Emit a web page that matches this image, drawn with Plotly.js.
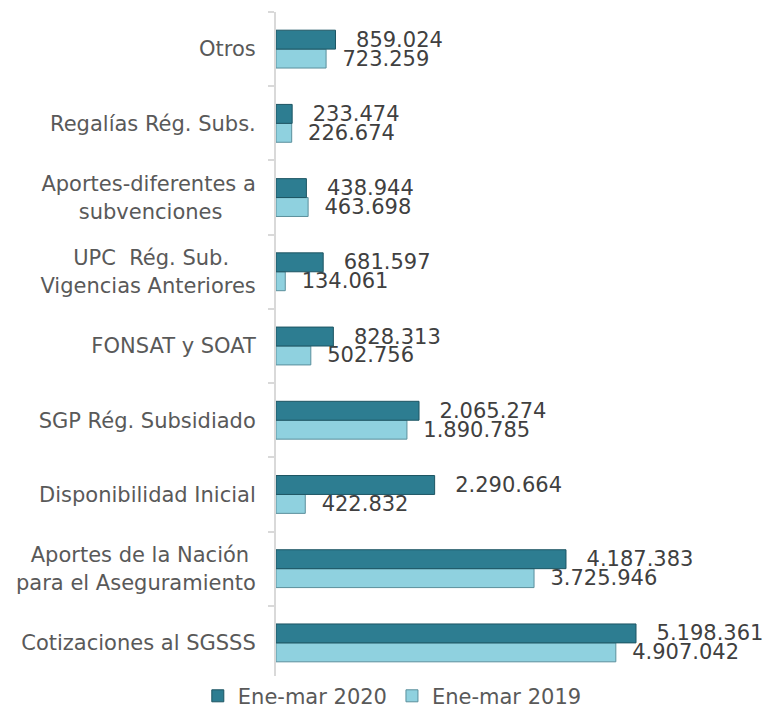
<!DOCTYPE html>
<html>
<head>
<meta charset="utf-8">
<script src="https://cdn.plot.ly/plotly-3.0.1.min.js"></script>
<style>html,body{margin:0;padding:0;background:#fff;}#chart{width:765px;height:709px;}</style>
</head>
<body>
<div id="chart"></div>
<script>
var NB = "\u00a0";
var TH = "\u2009";
var categories = [
  "Cotizaciones al SGSSS",
  "Aportes de la Nación" + NB + "<br>para el Aseguramiento",
  "Disponibilidad Inicial",
  "SGP Rég. Subsidiado",
  "FONSAT y SOAT",
  "UPC" + NB + NB + "Rég. Sub." + NB + NB + NB + NB + "<br>Vigencias Anteriores",
  "Aportes-diferentes a<br>subvenciones" + NB + NB + NB + NB + NB,
  "Regalías Rég. Subs.",
  "Otros"
];
var series2020 = [5198361, 4187383, 2290664, 2065274, 828313, 681597, 438944, 233474, 859024];
var series2019 = [4907042, 3725946, 422832, 1890785, 502756, 134061, 463698, 226674, 723259];
var seriesNames = ["Ene-mar 2020", "Ene-mar 2019"];

var font = "DejaVu Sans, Verdana, sans-serif";

var trace2019 = {
  type: "bar", orientation: "h", name: seriesNames[1],
  y: categories, x: series2019,
  marker: {color: "#8fd1df", line: {color: "#5b8f9c", width: 1}},
  texttemplate: NB + NB + "%{x:,}", textposition: "outside",
  constraintext: "none", cliponaxis: false,
  textfont: {family: font, size: 21, color: "#404040"},
  hoverinfo: "x+y", legendrank: 2
};
var trace2020 = {
  type: "bar", orientation: "h", name: seriesNames[0],
  y: categories, x: series2020,
  marker: {color: "#2d7d91", line: {color: "#1d5563", width: 1}},
  texttemplate: NB + NB + TH + "%{x:,}", textposition: "outside",
  constraintext: "none", cliponaxis: false,
  textfont: {family: font, size: 21, color: "#404040"},
  hoverinfo: "x+y", legendrank: 1
};

var layout = {
  width: 765, height: 709,
  margin: {l: 276, r: 20, t: 12, b: 29, autoexpand: false},
  paper_bgcolor: "#fff", plot_bgcolor: "#fff",
  separators: ",.",
  barmode: "group", bargap: 0.49, bargroupgap: 0,
  font: {family: font, size: 21, color: "#595959"},
  showlegend: true,
  legend: {orientation: "h", x: 0.248, xanchor: "center", y: 0.0065, yanchor: "top",
           font: {family: font, size: 21, color: "#595959"}, traceorder: "normal"},
  xaxis: {range: [0, 6772200], visible: false, showgrid: false, zeroline: false, fixedrange: true},
  yaxis: {type: "category", categoryorder: "array", categoryarray: categories,
          showline: true, linecolor: "#d9d9d9", linewidth: 2,
          ticks: "outside", tickson: "boundaries", ticklen: 6, tickcolor: "#d9d9d9", tickwidth: 2,
          showgrid: false, zeroline: false, ticklabelstandoff: 14,
          tickfont: {family: font, size: 21, color: "#595959"}, fixedrange: true}
};

Plotly.newPlot("chart", [trace2019, trace2020], layout, {displayModeBar: false, staticPlot: true});
</script>
</body>
</html>
